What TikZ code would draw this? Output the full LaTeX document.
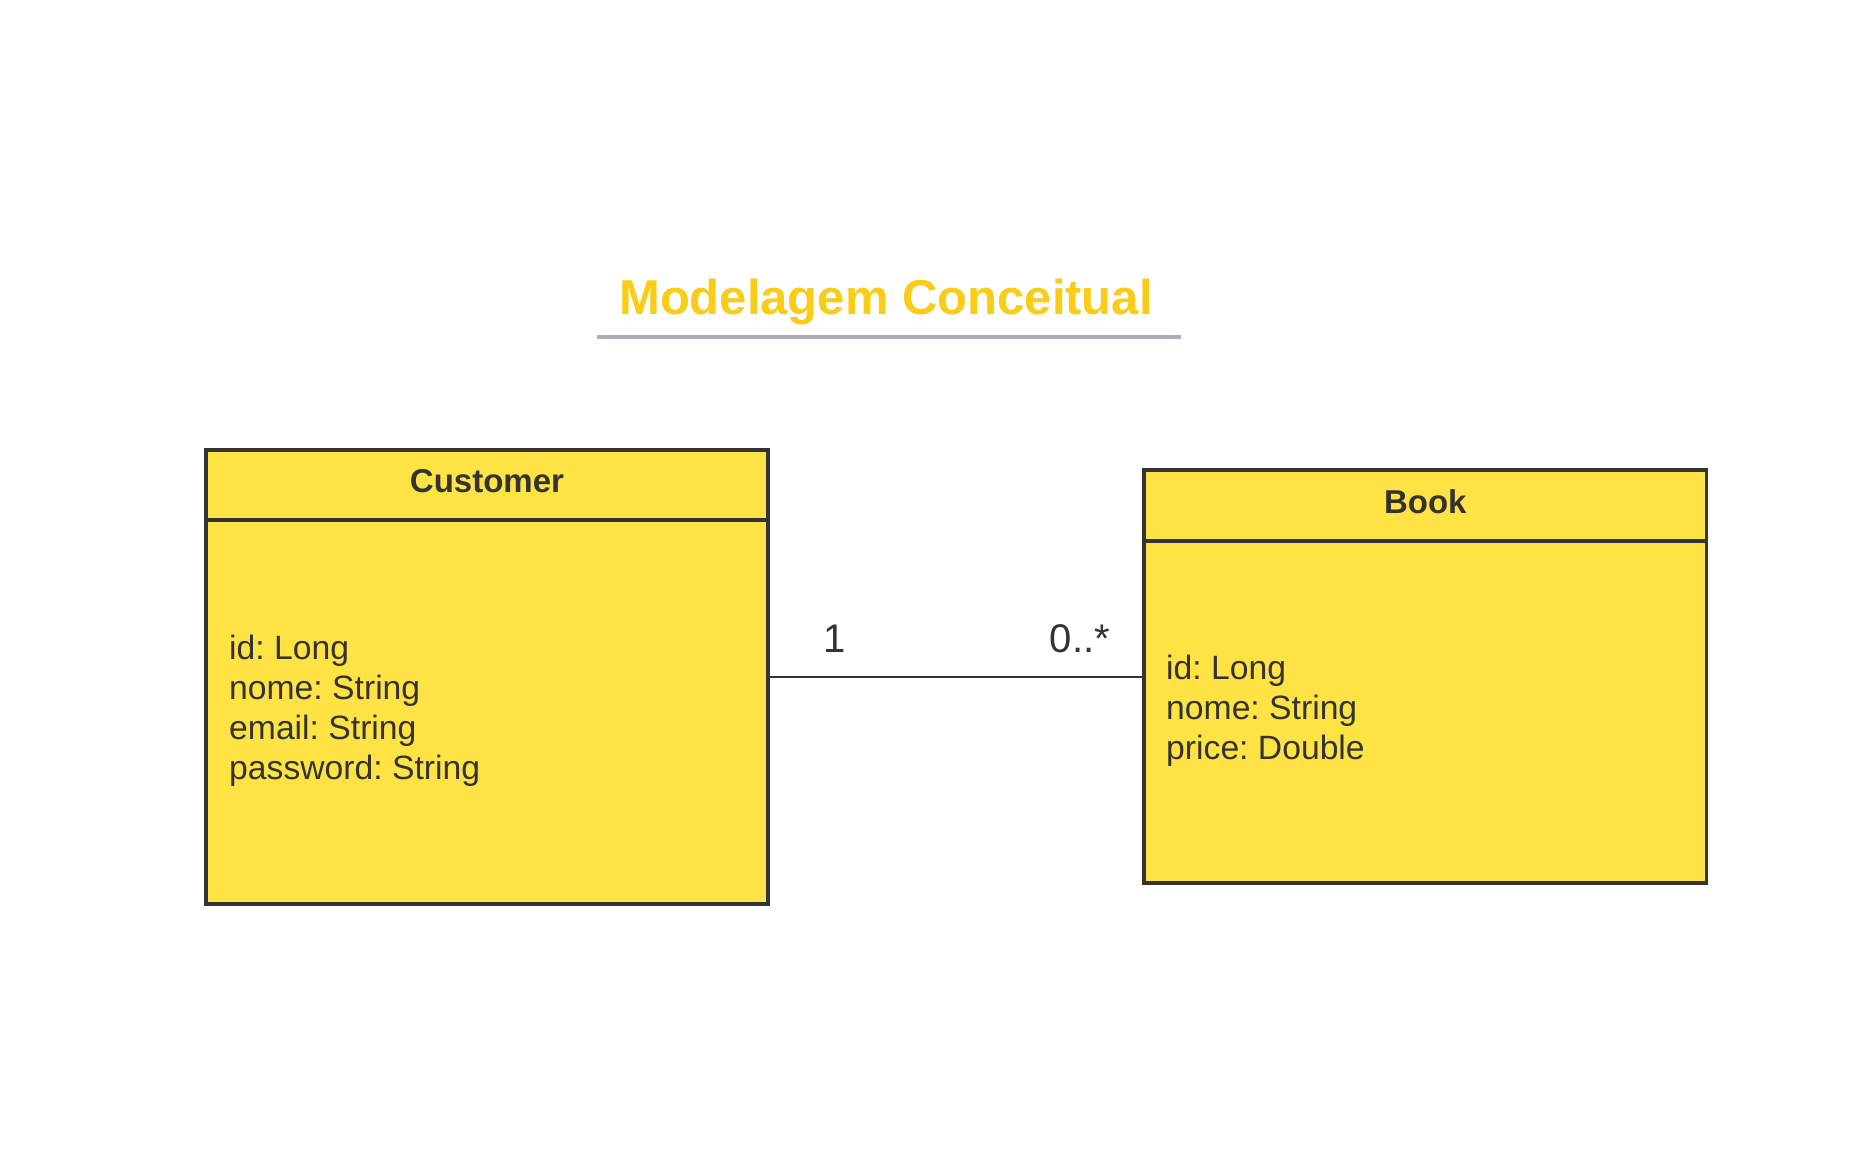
\documentclass[tikz,border=0pt]{standalone}
\usepackage{fontspec}
\setmainfont{Liberation Sans}
\frenchspacing
\definecolor{boxfill}{HTML}{FFE344}
\definecolor{ink}{HTML}{333333}
\definecolor{titlecol}{HTML}{F9CC16}
\definecolor{rulecol}{HTML}{A9ADB5}
\begin{document}
\begin{tikzpicture}[x=1pt,y=-1pt,
  classbox/.style={draw=ink,fill=boxfill,line width=3.5pt,anchor=north west,inner sep=0pt,outer sep=0pt},
  divider/.style={draw=ink,line width=3.2pt},
  attr/.style={anchor=base west,inner sep=0pt,text=ink,font=\fontsize{33.7}{40}\selectfont},
  hdr/.style={anchor=base,inner sep=0pt,text=ink,font=\fontsize{33}{40}\selectfont\bfseries},
  mult/.style={anchor=base,inner sep=0pt,text=ink,font=\fontsize{40}{48}\selectfont},
  assoc/.style={draw=ink,line width=2pt}]
\useasboundingbox (0,0) rectangle (1853,1158);
\fill[white] (0,0) rectangle (1853,1158);
% title
\node[anchor=base,inner sep=0pt,text=titlecol,font=\fontsize{49}{58}\selectfont\bfseries] (title) at (886,315) {Modelagem Conceitual};
\coordinate (ulA) at (597,337);
\coordinate (ulB) at (1181,337);
\draw[draw=rulecol,line width=3.5pt] (ulA) -- (ulB);
% classes
\node[classbox,minimum width=562pt,minimum height=454pt] (cust) at (206,450) {};
\node[classbox,minimum width=562.6pt,minimum height=413pt] (book) at (1144,470) {};
\draw[divider] ([yshift=-70pt]cust.north west) -- ([yshift=-70pt]cust.north east);
\draw[divider] ([yshift=-71pt]book.north west) -- ([yshift=-71pt]book.north east);
\node[hdr] (custname) at (487,492) {Customer};
\node[hdr] (bookname) at (1425.3,513) {Book};
% attributes
\node[attr] (c1) at (229,659) {id: Long};
\node[attr] (c2) at (229,699) {nome: String};
\node[attr] (c3) at (229,739) {email: String};
\node[attr] (c4) at (229,779) {password: String};
\node[attr] (b1) at (1166,679) {id: Long};
\node[attr] (b2) at (1166,719) {nome: String};
\node[attr] (b3) at (1166,759) {price: Double};
% association
\draw[assoc] (cust.east) -- (cust.east -| book.west);
\node[mult] (m1) at (835,652.5) {1};
\node[mult] (m2) at (1080,652.5) {0..*};
\end{tikzpicture}
\end{document}
